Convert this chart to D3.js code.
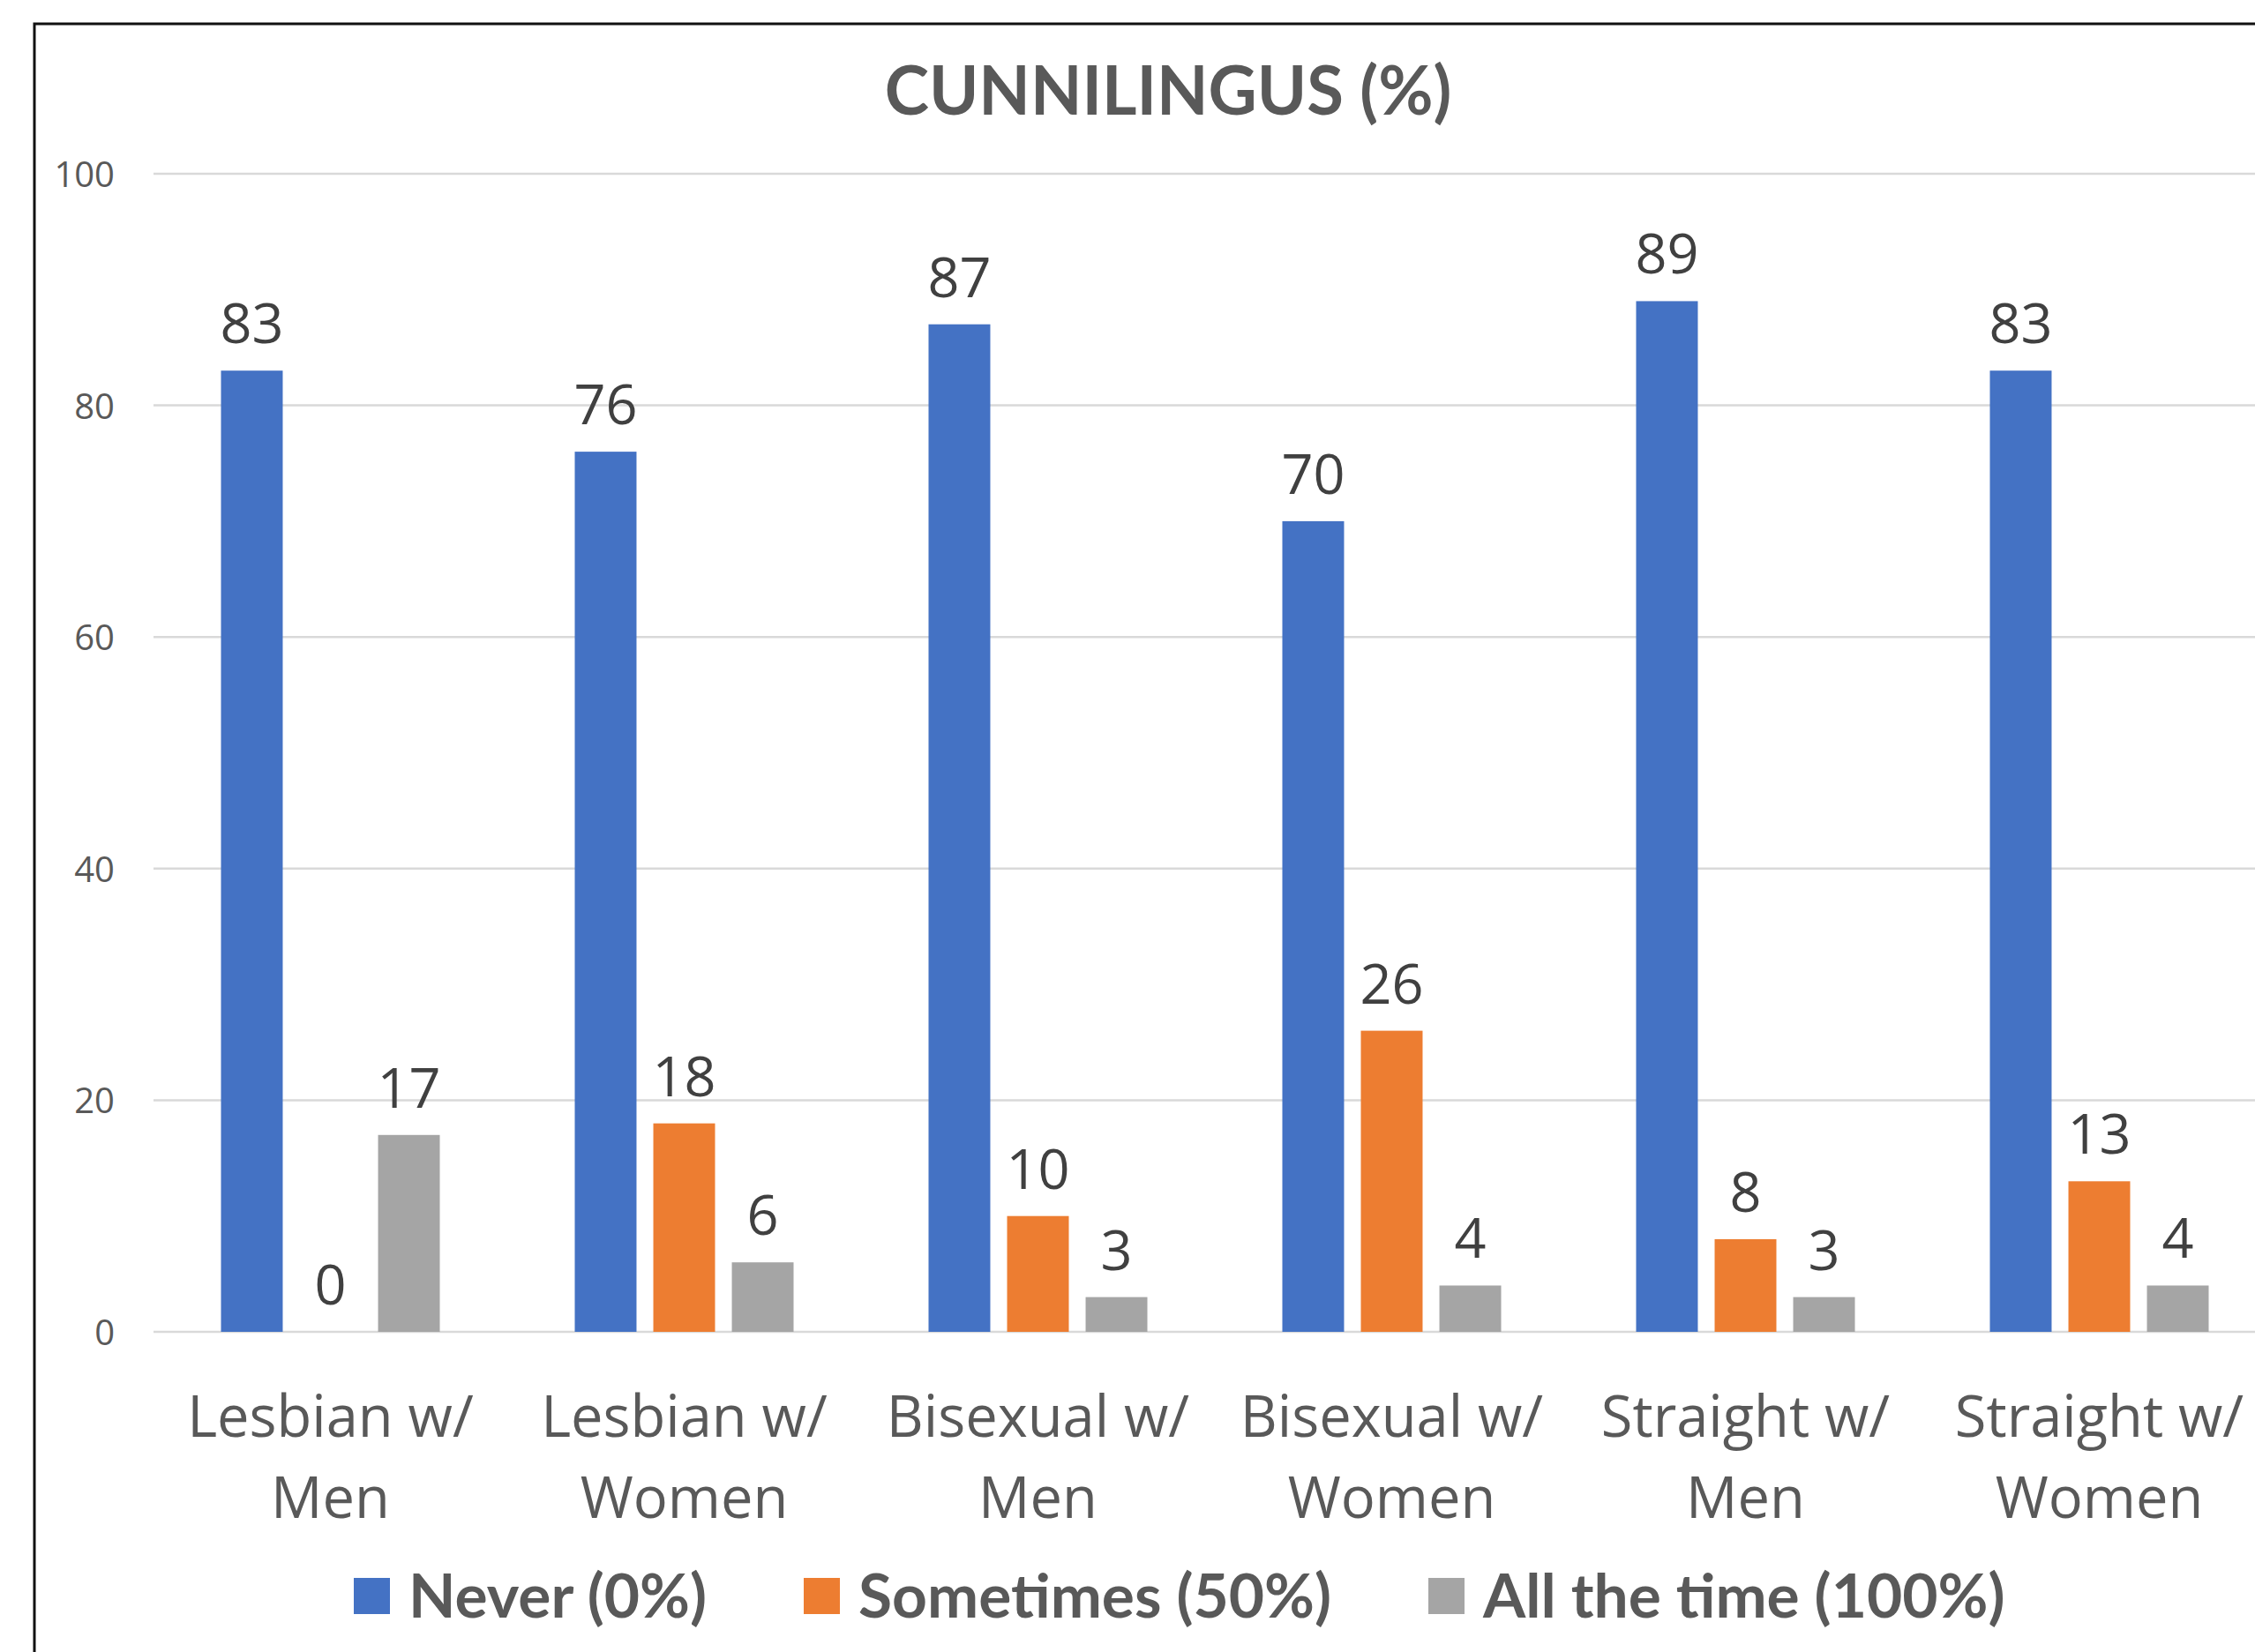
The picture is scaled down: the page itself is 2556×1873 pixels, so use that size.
<!DOCTYPE html>
<html>
<head>
<meta charset="utf-8">
<script src="https://cdn.jsdelivr.net/npm/d3@7"></script>
<style>
  html, body { margin: 0; padding: 0; background: #fff; }
  svg { display: block; }
</style>
</head>
<body>
<svg id="chart" width="2556" height="1873"></svg>
<script>
// ---- data ----
const title = "CUNNILINGUS (%)";
const categories = [
  ["Lesbian w/", "Men"],
  ["Lesbian w/", "Women"],
  ["Bisexual w/", "Men"],
  ["Bisexual w/", "Women"],
  ["Straight w/", "Men"],
  ["Straight w/", "Women"]
];
const seriesNames = ["Never (0%)", "Sometimes (50%)", "All the time (100%)"];
const neverValues = [83, 76, 87, 70, 89, 83];
const sometimesValues = [0, 18, 10, 26, 8, 13];
const allTheTimeValues = [17, 6, 3, 4, 3, 4];
const seriesColors = ["#4472C4", "#ED7D31", "#A5A5A5"];
const yTicks = [0, 20, 40, 60, 80, 100];

const seriesValues = [neverValues, sometimesValues, allTheTimeValues];
const catKeys = categories.map(c => c.join(" "));

// ---- layout ----
const svg = d3.select("#chart");
const plotLeft = 174, plotRight = 2580, plotTop = 197, plotBottom = 1510;

const x0 = d3.scaleBand().domain(catKeys).range([plotLeft, plotRight])
  .paddingInner(0.334).paddingOuter(0.167);
const x1 = d3.scaleBand().domain(seriesNames).range([0, x0.bandwidth()])
  .paddingInner(0.214).paddingOuter(0.107);
const y = d3.scaleLinear().domain([0, 100]).range([plotBottom, plotTop]);

// chart border (cropped on right/bottom)
svg.append("rect")
  .attr("x", 39).attr("y", 27)
  .attr("width", 3000).attr("height", 3000)
  .attr("fill", "none").attr("stroke", "#111").attr("stroke-width", 3);

// gridlines
svg.append("g").selectAll("line").data(yTicks).join("line")
  .attr("x1", plotLeft).attr("x2", plotRight)
  .attr("y1", d => y(d)).attr("y2", d => y(d))
  .attr("stroke", "#D9D9D9").attr("stroke-width", 2.5);

// y axis labels
const yAxis = d3.axisLeft(y).tickValues(yTicks).tickSize(0).tickPadding(0);
const yg = svg.append("g").attr("transform", `translate(130,0)`).call(yAxis);
yg.select(".domain").remove();
yg.selectAll("text")
  .attr("font-family", "'Open Sans', sans-serif")
  .attr("font-size", 40)
  .attr("fill", "#595959")
  .attr("dy", "0.36em");

// bars
const groups = svg.append("g").selectAll("g").data(catKeys).join("g")
  .attr("transform", d => `translate(${x0(d)},0)`);

groups.selectAll("rect")
  .data((d, i) => seriesNames.map((s, j) => ({ s, j, v: seriesValues[j][i] })))
  .join("rect")
  .attr("x", d => x1(d.s))
  .attr("y", d => y(d.v))
  .attr("width", x1.bandwidth())
  .attr("height", d => y(0) - y(d.v))
  .attr("fill", d => seriesColors[d.j]);

// data labels
groups.selectAll("text.val")
  .data((d, i) => seriesNames.map((s, j) => ({ s, j, v: seriesValues[j][i] })))
  .join("text")
  .attr("class", "val")
  .attr("x", d => x1(d.s) + x1.bandwidth() / 2)
  .attr("y", d => y(d.v) - 31)
  .attr("text-anchor", "middle")
  .attr("font-family", "'Open Sans', sans-serif")
  .attr("font-size", 63)
  .attr("fill", "#404040")
  .text(d => d.v);

// category labels
const cl = svg.append("g").selectAll("text").data(categories).join("text")
  .attr("text-anchor", "middle")
  .attr("font-family", "'Open Sans', sans-serif")
  .attr("font-size", 65)
  .attr("fill", "#595959")
  .attr("transform", (d, i) => `translate(${x0(catKeys[i]) + x0.bandwidth() / 2},0)`);
cl.append("tspan").attr("x", 0).attr("y", 1629).text(d => d[0]);
cl.append("tspan").attr("x", 0).attr("y", 1721).text(d => d[1]);

// title
svg.append("text")
  .attr("x", 1324).attr("y", 130)
  .attr("text-anchor", "middle")
  .attr("font-family", "Lato, sans-serif")
  .attr("font-weight", "bold")
  .attr("font-size", 76)
  .attr("fill", "#595959")
  .text(title);

// legend
const legendX = [401, 911, 1619];
const lg = svg.append("g").selectAll("g").data(seriesNames).join("g")
  .attr("transform", (d, i) => `translate(${legendX[i]},0)`);
lg.append("rect")
  .attr("x", 0).attr("y", 1789)
  .attr("width", 41).attr("height", 41)
  .attr("fill", (d, i) => seriesColors[i]);
lg.append("text")
  .attr("x", 62).attr("y", 1834)
  .attr("font-family", "Lato, sans-serif")
  .attr("font-weight", "bold")
  .attr("font-size", 69.5)
  .attr("fill", "#595959")
  .text(d => d);
</script>
</body>
</html>
